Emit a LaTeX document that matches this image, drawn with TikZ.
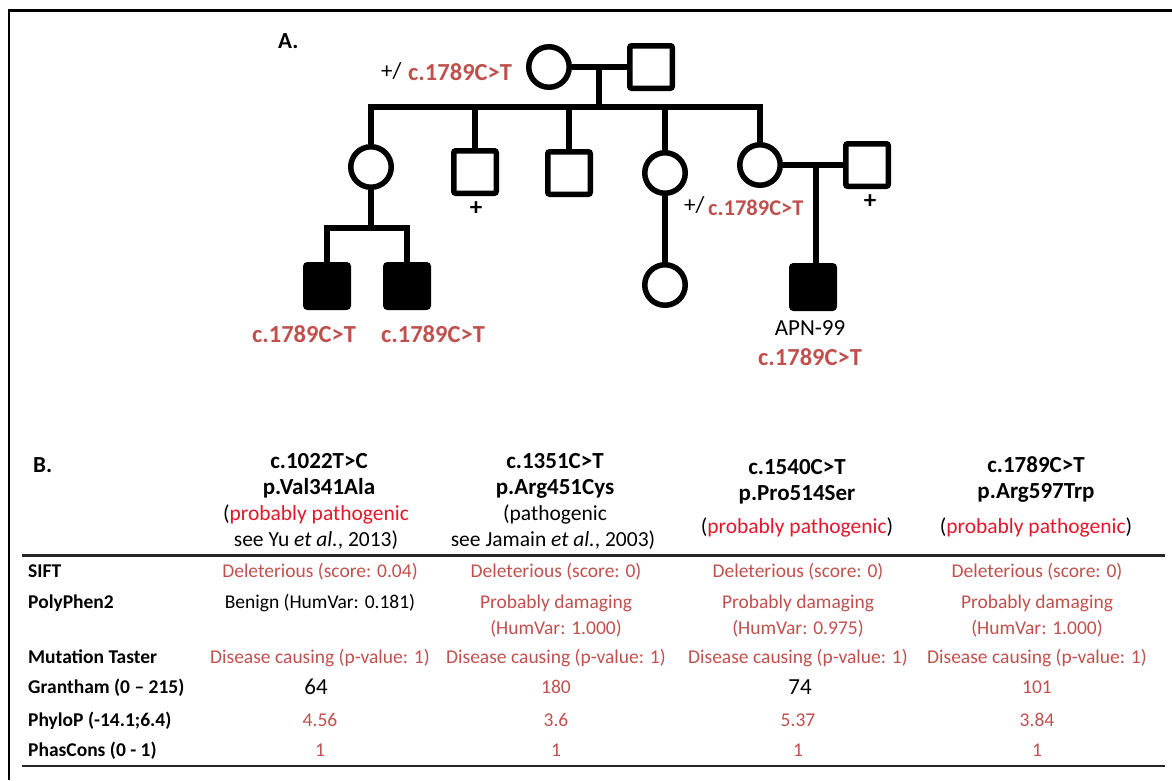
\documentclass[tikz,border=0pt]{standalone}
\usepackage{fontspec}
\setmainfont{Carlito}
\definecolor{tred}{RGB}{192,80,77}
\definecolor{pred}{RGB}{228,22,42}
\begin{document}
\begin{tikzpicture}[x=1pt,y=-1pt,
  ped/.style={line width=5.5pt,black},
  fem/.style={circle,draw,line width=5.5pt,minimum size=40.5pt,inner sep=0pt},
  mal/.style={rectangle,draw,line width=5.5pt,minimum size=42.5pt,inner sep=0pt,rounded corners=2pt},
  aff/.style={mal,fill=black},
  mut/.style={font=\fontsize{24.5}{28}\selectfont\bfseries,text=tred,inner sep=0pt,anchor=base},
  plain/.style={font=\fontsize{23}{26}\selectfont,inner sep=0pt,anchor=base},
  plus/.style={font=\fontsize{25}{28}\selectfont\bfseries,inner sep=0pt,anchor=center},
  panel/.style={font=\fontsize{23}{26}\selectfont\bfseries,inner sep=0pt,anchor=base west},
  lab/.style={font=\fontsize{19.5}{22}\selectfont\bfseries,inner sep=0pt,anchor=base west},
  cell/.style={font=\fontsize{19.5}{22}\selectfont,text=tred,inner sep=0pt,anchor=base},
  cellk/.style={font=\fontsize{19.5}{22}\selectfont,inner sep=0pt,anchor=base},
  big/.style={font=\fontsize{23}{26}\selectfont,inner sep=0pt,anchor=base},
  hdr/.style={font=\fontsize{23}{26}\selectfont\bfseries,inner sep=0pt,anchor=base},
  note/.style={font=\fontsize{21.5}{25}\selectfont,inner sep=0pt,anchor=base},
  rule/.style={line width=2.6pt,black!85}]
\useasboundingbox (0,0) rectangle (1172,780);
% frame
\draw[line width=2.5pt] (9,780) -- (9,10.5) -- (1172,10.5);

% ---------------- A. pedigree ----------------
\node[panel] (pA) at (278,48) {A.};
\node[fem] (mo) at (549,67) {};
\node[mal] (fa) at (651,67) {};
\coordinate (m1) at (599,67);
\coordinate (sibY) at (599,107);
\node[fem] (c1) at (371,167) {};
\node[mal] (c2) at (475,172) {};
\node[mal] (c3) at (569,173) {};
\node[fem] (c4) at (665,173) {};
\node[fem] (c5) at (760,165) {};
\node[mal] (sp) at (867,165) {};
\coordinate (m2) at (816,165);
\coordinate (sib2) at (371,228);
\node[aff] (g1) at (327,286) {};
\node[aff] (g2) at (407,286) {};
\node[fem] (c6) at (665,285) {};
\node[aff] (apn) at (813,287) {};

\draw[ped] (mo) -- (fa);
\draw[ped] (m1) -- (sibY);
\draw[ped] (c1) -- (c1 |- sibY) -- (c5 |- sibY) -- (c5);
\draw[ped] (c2) -- (c2 |- sibY);
\draw[ped] (c3) -- (c3 |- sibY);
\draw[ped] (c4) -- (c4 |- sibY);
\draw[ped] (c5) -- (sp);
\draw[ped] (m2) -- (m2 |- apn.north);
\draw[ped] (c4) -- (c6);
\draw[ped] (c1) -- (c1 |- sib2);
\draw[ped] (g1) -- (g1 |- sib2) -- (g2 |- sib2) -- (g2);

% labels
\node[plain,anchor=base west] (moP) at (381,78) {+/};
\node[mut,anchor=base west] (moM) at (408,80) {c.1789C>T};
\node[plus] (c2p) at (476,209) {+};
\node[plus] (spp) at (870,202) {+};
\node[plain,anchor=base west] (c4P) at (684,212) {+/};
\node[mut,anchor=base west,font=\fontsize{22.5}{26}\selectfont\bfseries] (c4M) at (708,215) {c.1789C>T};
\node[mut] (g1M) at (304,342) {c.1789C>T};
\node[mut] (g2M) at (433,342) {c.1789C>T};
\node[plain] (apnL) at (810,335) {APN-99};
\node[mut] (apnM) at (810,365) {c.1789C>T};

% ---------------- B. table ----------------
\node[panel] (pB) at (33,472) {B.};
% headers
\node[hdr] (h1a) at (319,468) {c.1022T>C};
\node[hdr] (h1b) at (319,494) {p.Val341Ala};
\node[note] (h1c) at (316,520) {({\color{pred}probably pathogenic}};
\node[note] (h1d) at (316,546) {see Yu \textit{et al.}, 2013)};
\node[hdr] (h2a) at (555,468) {c.1351C>T};
\node[hdr] (h2b) at (555,494) {p.Arg451Cys};
\node[note] (h2c) at (555,520) {(pathogenic};
\node[note] (h2d) at (553,546) {see Jamain \textit{et al.}, 2003)};
\node[hdr] (h3a) at (797,474) {c.1540C>T};
\node[hdr] (h3b) at (797,500) {p.Pro514Ser};
\node[note] (h3c) at (797,533) {({\color{pred}probably pathogenic})};
\node[hdr] (h4a) at (1036,472) {c.1789C>T};
\node[hdr] (h4b) at (1036,498) {p.Arg597Trp};
\node[note] (h4c) at (1036,533) {({\color{pred}probably pathogenic})};

\coordinate (r1L) at (22,555.5);
\coordinate (r1R) at (1165,555.5);
\draw[rule] (r1L) -- (r1R);
\coordinate (r2L) at (22,766);
\coordinate (r2R) at (1165,766);
\draw[rule] (r2L) -- (r2R);

% row labels
\node[lab] (lSIFT) at (28,577) {SIFT};
\node[lab] (lPP) at (28,608) {PolyPhen2};
\node[lab] (lMT) at (28,663) {Mutation Taster};
\node[lab] (lGr) at (28,693) {Grantham (0 – 215)};
\node[lab] (lPh) at (28,726) {PhyloP (-14.1;6.4)};
\node[lab] (lPc) at (28,756) {PhasCons (0 - 1)};

% SIFT
\node[cell] (s1) at (320,577) {Deleterious (score: 0.04)};
\node[cell] (s2) at (556,577) {Deleterious (score: 0)};
\node[cell] (s3) at (798,577) {Deleterious (score: 0)};
\node[cell] (s4) at (1037,577) {Deleterious (score: 0)};
% PolyPhen2
\node[cellk] (p1) at (320,608) {Benign (HumVar: 0.181)};
\node[cell] (p2a) at (556,608) {Probably damaging};
\node[cell] (p2b) at (556,634) {(HumVar: 1.000)};
\node[cell] (p3a) at (798,608) {Probably damaging};
\node[cell] (p3b) at (798,634) {(HumVar: 0.975)};
\node[cell] (p4a) at (1037,608) {Probably damaging};
\node[cell] (p4b) at (1037,634) {(HumVar: 1.000)};
% Mutation Taster
\node[cell] (t1) at (320,663) {Disease causing (p-value: 1)};
\node[cell] (t2) at (556,663) {Disease causing (p-value: 1)};
\node[cell] (t3) at (798,663) {Disease causing (p-value: 1)};
\node[cell] (t4) at (1037,663) {Disease causing (p-value: 1)};
% Grantham
\node[big] (g1v) at (316,694) {64};
\node[cell] (g2v) at (556,693) {180};
\node[big] (g3v) at (800,694) {74};
\node[cell] (g4v) at (1037,693) {101};
% PhyloP
\node[cell] (f1) at (320,726) {4.56};
\node[cell] (f2) at (556,726) {3.6};
\node[cell] (f3) at (798,726) {5.37};
\node[cell] (f4) at (1037,726) {3.84};
% PhasCons
\node[cell] (k1) at (320,756) {1};
\node[cell] (k2) at (556,756) {1};
\node[cell] (k3) at (798,756) {1};
\node[cell] (k4) at (1037,756) {1};
\end{tikzpicture}
\end{document}
